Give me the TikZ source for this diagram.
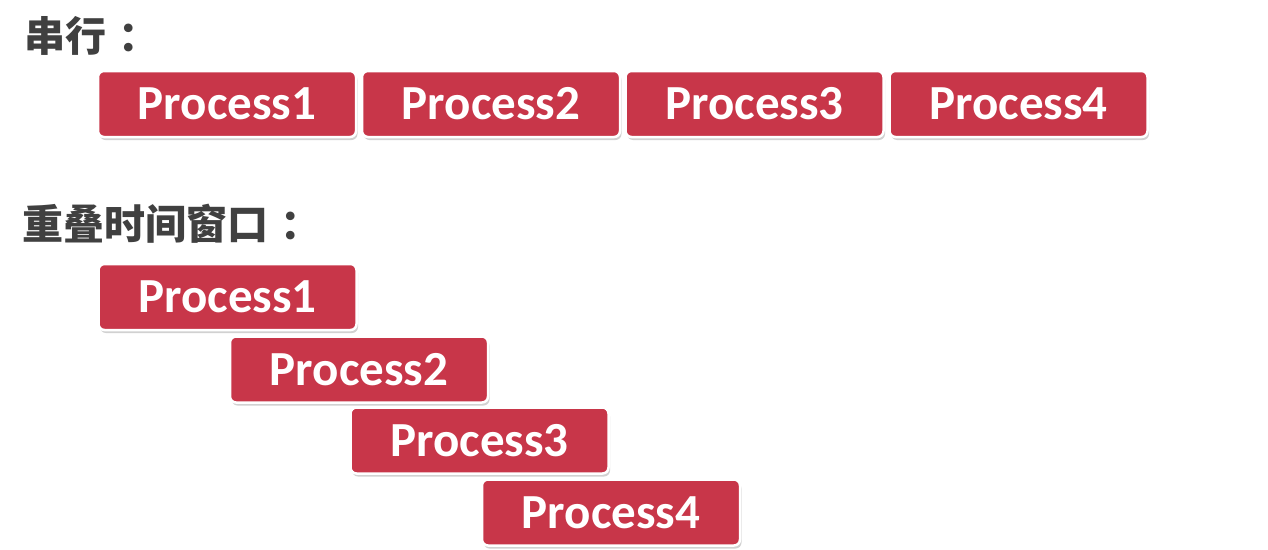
\documentclass[tikz,border=0pt]{standalone}
\usepackage{fontspec}
\usetikzlibrary{shadows}
\newfontfamily\cjkfont{Noto Sans CJK SC}
\newfontfamily\procfont{Carlito}
\definecolor{procred}{RGB}{200,54,73}
\definecolor{titlegray}{RGB}{64,64,64}
\tikzset{
  procbox/.style={rounded corners=6pt, fill=procred, draw=white, line width=2.5pt,
    minimum width=258pt, minimum height=66pt, inner sep=0pt, text=white,
    font={\procfont\bfseries\fontsize{49}{50}\selectfont},
    drop shadow={shadow xshift=1.5pt, shadow yshift=-3pt, fill=black!40, opacity=0.45}},
  titletext/.style={anchor=west, inner sep=0pt, text=titlegray,
    font={\cjkfont\bfseries\fontsize{41}{44}\selectfont}}
}
\begin{document}
\begin{tikzpicture}[x=1pt,y=-1pt]
\useasboundingbox (0,0) rectangle (1268,549);
\fill[white] (0,0) rectangle (1268,549);
\node[titletext] (t1) at (24,36) {串行\kern12pt：};
\node[procbox] (s1) at (227,104) {Process1};
\node[procbox] (s2) at (491,104) {Process2};
\node[procbox] (s3) at (754.5,104) {Process3};
\node[procbox] (s4) at (1018.5,104) {Process4};
\node[titletext] (t2) at (22,224) {重叠时间窗口\kern12pt：};
\node[procbox] (o1) at (227.5,297) {Process1};
\node[procbox] (o2) at (359,369.5) {Process2};
\node[procbox] (o3) at (479.5,440.5) {Process3};
\node[procbox] (o4) at (611,512.5) {Process4};
\end{tikzpicture}
\end{document}
